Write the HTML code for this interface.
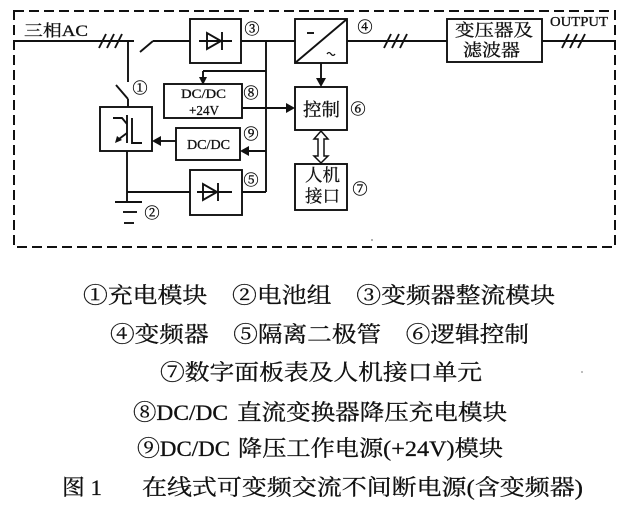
<!DOCTYPE html>
<html><head><meta charset="utf-8"><style>
html,body{margin:0;padding:0;background:#fff;}
svg{display:block;}
text{font-family:"Liberation Serif","Noto Serif CJK SC",serif;fill:#111;}
.c{font-family:"Noto Serif CJK SC","Liberation Serif",serif;}
</style></head><body>
<svg width="621" height="514" viewBox="0 0 621 514" xmlns="http://www.w3.org/2000/svg">
<rect width="621" height="514" fill="#fff"/>
<g stroke="#111" stroke-width="1.9" fill="none">
<rect x="14" y="11" width="601" height="236" stroke-dasharray="10 5" stroke-width="2"/>
<line x1="14" y1="41" x2="134" y2="41"/>
<line x1="140" y1="52" x2="153" y2="41"/>
<line x1="153" y1="41" x2="190" y2="41"/>
<line x1="99" y1="48" x2="106" y2="34"/>
<line x1="107" y1="48" x2="114" y2="34"/>
<line x1="115" y1="48" x2="122" y2="34"/>
<rect x="190" y="19" width="51" height="44"/>
<line x1="199" y1="41" x2="232" y2="41"/>
<polygon points="207,33 207,49 221,41"/>
<line x1="222" y1="32" x2="222" y2="50"/>
<line x1="241" y1="41" x2="295" y2="41"/>
<line x1="266" y1="41" x2="266" y2="192"/>
<line x1="266" y1="192" x2="242" y2="192"/>
<line x1="266" y1="71" x2="203" y2="71"/>
<line x1="203" y1="71" x2="203" y2="78"/>
<rect x="164" y="84" width="78" height="34"/>
<line x1="242" y1="108" x2="287" y2="108"/>
<rect x="176" y="128" width="64" height="32"/>
<line x1="266" y1="151" x2="248" y2="151"/>
<line x1="176" y1="141" x2="160" y2="141"/>
<line x1="128" y1="41" x2="128" y2="82"/>
<line x1="116" y1="85" x2="128" y2="99"/>
<line x1="128" y1="99" x2="128" y2="107"/>
<rect x="100" y="107" width="52" height="44"/>
<polyline points="113,118 122,118 127,124"/>
<line x1="127" y1="115" x2="127" y2="143"/>
<line x1="127" y1="133" x2="119" y2="139"/>
<polyline points="132,118 132,143 142,143"/>
<line x1="127" y1="151" x2="127" y2="202"/>
<line x1="127" y1="192" x2="190" y2="192"/>
<line x1="115" y1="202" x2="142" y2="202"/>
<line x1="123" y1="212" x2="137" y2="212"/>
<line x1="124" y1="223" x2="134" y2="223"/>
<rect x="190" y="170" width="52" height="45"/>
<line x1="197" y1="192" x2="232" y2="192"/>
<polygon points="203,184 203,200 217,192"/>
<line x1="218" y1="183" x2="218" y2="201"/>
<rect x="295" y="19" width="52" height="44"/>
<line x1="295" y1="63" x2="347" y2="19"/>
<line x1="307" y1="33" x2="314" y2="33"/>
<line x1="321" y1="63" x2="321" y2="79"/>
<line x1="347" y1="41" x2="447" y2="41"/>
<line x1="384" y1="48" x2="391" y2="34"/>
<line x1="392" y1="48" x2="399" y2="34"/>
<line x1="400" y1="48" x2="407" y2="34"/>
<rect x="295" y="87" width="52" height="43"/>
<rect x="295" y="164" width="52" height="46"/>
<polygon points="321,131 328,139 324,139 324,156 328,156 321,163 314,156 318,156 318,139 314,139" fill="#fff" stroke-width="1.5"/>
<rect x="447" y="19" width="95" height="43"/>
<line x1="542" y1="41" x2="615" y2="41"/>
<line x1="562" y1="48" x2="569" y2="34"/>
<line x1="570" y1="48" x2="577" y2="34"/>
<line x1="578" y1="48" x2="585" y2="34"/>
</g>
<g fill="#111">
<polygon points="199,77 207,77 203,85"/>
<polygon points="286,103 286,113 295,108"/>
<polygon points="249,146 249,156 240,151"/>
<polygon points="161,136 161,146 152,141"/>
<polygon points="316,78 326,78 321,87"/>
<polygon points="115,143 117,136 122,140"/>
</g>
<path d="M327,54 q2,-3 4,0 t4,0" stroke="#111" stroke-width="1.3" fill="none"/>
<g stroke="#111" stroke-width="0.3">
<text x="24" y="36" font-size="16" textLength="64" lengthAdjust="spacingAndGlyphs">三相AC</text>
<text x="181" y="98" font-size="13" textLength="45" lengthAdjust="spacingAndGlyphs">DC/DC</text>
<text x="189" y="115" font-size="14" textLength="30" lengthAdjust="spacingAndGlyphs">+24V</text>
<text x="187" y="149" font-size="14" textLength="43" lengthAdjust="spacingAndGlyphs">DC/DC</text>
<text class="c" x="303" y="116" font-size="18" textLength="37" lengthAdjust="spacingAndGlyphs">控制</text>
<text class="c" x="305" y="181" font-size="17" textLength="35" lengthAdjust="spacingAndGlyphs">人机</text>
<text class="c" x="305" y="202" font-size="17" textLength="35" lengthAdjust="spacingAndGlyphs">接口</text>
<text class="c" x="455" y="36" font-size="17" textLength="78" lengthAdjust="spacingAndGlyphs">变压器及</text>
<text class="c" x="463" y="56" font-size="17" textLength="57" lengthAdjust="spacingAndGlyphs">滤波器</text>
<text x="550" y="26" font-size="14" textLength="58" lengthAdjust="spacingAndGlyphs">OUTPUT</text>
</g>
<g class="c" font-size="15" text-anchor="middle" stroke="#111" stroke-width="0.4">
<text class="c" x="252" y="34">③</text>
<text class="c" x="140" y="93">①</text>
<text class="c" x="251" y="98">⑧</text>
<text class="c" x="251" y="139">⑨</text>
<text class="c" x="251" y="185">⑤</text>
<text class="c" x="152" y="218">②</text>
<text class="c" x="365" y="32">④</text>
<text class="c" x="358" y="114">⑥</text>
<text class="c" x="360" y="194">⑦</text>
</g>
<circle cx="372" cy="240" r="1" fill="#999"/>
<g font-size="22" stroke="#111" stroke-width="0.3">
<text x="83" y="303" textLength="472" lengthAdjust="spacingAndGlyphs">①充电模块　②电池组　③变频器整流模块</text>
<text x="110" y="342" textLength="419" lengthAdjust="spacingAndGlyphs">④变频器　⑤隔离二极管　⑥逻辑控制</text>
<text x="160" y="380" textLength="322" lengthAdjust="spacingAndGlyphs">⑦数字面板表及人机接口单元</text>
<text x="133" y="420" textLength="95" lengthAdjust="spacingAndGlyphs">⑧DC/DC</text>
<text x="237" y="420" textLength="270" lengthAdjust="spacingAndGlyphs">直流变换器降压充电模块</text>
<text x="137" y="456" textLength="93" lengthAdjust="spacingAndGlyphs">⑨DC/DC</text>
<text x="238" y="456" textLength="265" lengthAdjust="spacingAndGlyphs">降压工作电源(+24V)模块</text>
<text x="62" y="495" textLength="40" lengthAdjust="spacingAndGlyphs">图 1</text>
<text x="142" y="495" textLength="441" lengthAdjust="spacingAndGlyphs">在线式可变频交流不间断电源(含变频器)</text>
</g>
<circle cx="582" cy="372" r="1" fill="#aaa"/>
</svg>
</body></html>
